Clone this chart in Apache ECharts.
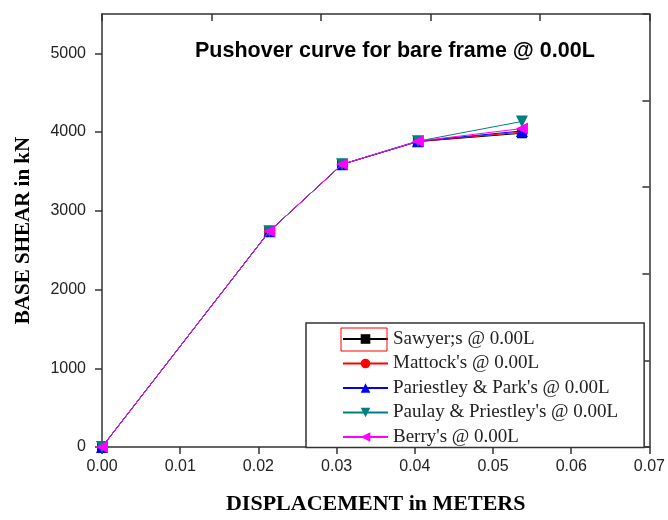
<!DOCTYPE html>
<html>
<head>
<meta charset="utf-8">
<script src="https://cdn.jsdelivr.net/npm/echarts@6/dist/echarts.min.js"></script>
<style>html,body{margin:0;padding:0;background:#fff;}#c{width:668px;height:520px;}</style>
</head>
<body>
<div id="c"></div>
<script>
// Data
const seriesNames = ["Sawyer;s @ 0.00L", "Mattock's @ 0.00L", "Pariestley & Park's @ 0.00L", "Paulay & Priestley's @ 0.00L", "Berry's @ 0.00L"];
const displacement = [0.0, 0.0214, 0.0307, 0.0404, 0.0537];
const sawyerShear   = [0, 2740, 3590, 3880, 3985];
const mattockShear  = [0, 2740, 3590, 3880, 4000];
const parkShear     = [0, 2740, 3590, 3885, 4015];
const paulayShear   = [0, 2740, 3590, 3885, 4135];
const berryShear    = [0, 2740, 3590, 3885, 4045];
const xTickLabels = ["0.00","0.01","0.02","0.03","0.04","0.05","0.06","0.07"];
const yTickLabels = ["0","1000","2000","3000","4000","5000"];

const allShear = [sawyerShear, mattockShear, parkShear, paulayShear, berryShear];
const colors = ['#000000', '#ff0000', '#0000ff', '#008080', '#ff00ff'];
const symbols = ['rect', 'circle', 'triangle', 'triangle', 'triangle'];
const rotates = [0, 0, 0, 180, 90];
const sizes = [10, 10, 12, 12, 12];

const chart = echarts.init(document.getElementById('c'), null, {renderer: 'canvas'});
const axisColor = '#333';
const series = seriesNames.map((name, i) => ({
  name: name,
  type: 'line',
  xAxisIndex: 0,
  yAxisIndex: 0,
  data: displacement.map((x, k) => [x, allShear[i][k]]),
  symbol: symbols[i],
  symbolSize: sizes[i],
  symbolRotate: rotates[i],
  showAllSymbol: true,
  lineStyle: {color: colors[i], width: 1},
  itemStyle: {color: colors[i]},
  animation: false,
  z: 2 + i
}));

chart.setOption({
  animation: false,
  backgroundColor: '#fff',
  title: {
    text: 'Pushover curve for bare frame @ 0.00L',
    left: 190, top: 35,
    textStyle: {fontFamily: 'Liberation Sans', fontWeight: 'bold', fontSize: 21.5, color: '#000'}
  },
  grid: {left: 102, right: 16, top: 14, bottom: 70, containLabel: false},
  legend: {
    orient: 'vertical',
    left: 306, top: 323,
    data: seriesNames,
    itemWidth: 45, itemHeight: 12, itemGap: 5.5,
    padding: [6.5, 26, 1, 36],
    borderColor: '#333', borderWidth: 1.5,
    backgroundColor: '#fff',
    textStyle: {fontFamily: 'Liberation Serif', fontSize: 19, color: '#222', lineHeight: 19},
    selectedMode: false
  },
  graphic: [{
    type: 'rect', z: 100,
    shape: {x: 341, y: 328, width: 46, height: 23},
    style: {fill: 'none', stroke: '#ff0000', lineWidth: 1}
  }],
  xAxis: [{
    type: 'value', position: 'bottom', min: 0, max: 0.07, interval: 0.01,
    name: 'DISPLACEMENT in METERS', nameLocation: 'middle', nameGap: 46,
    nameTextStyle: {fontFamily: 'Liberation Serif', fontWeight: 'bold', fontSize: 22, color: '#000'},
    axisLine: {show: true, onZero: false, lineStyle: {color: axisColor, width: 1.5}},
    axisTick: {show: true, inside: false, length: 7, lineStyle: {color: axisColor, width: 1.5}},
    axisLabel: {fontFamily: 'Liberation Sans', fontSize: 16, color: '#222', margin: 12,
      formatter: v => xTickLabels[Math.round(v / 0.01)] ?? ''},
    splitLine: {show: false}
  }, {
    type: 'value', position: 'top', min: 0, max: 0.07, interval: 0.014,
    axisLine: {show: true, onZero: false, lineStyle: {color: axisColor, width: 1.5}},
    axisTick: {show: true, inside: true, length: 7, lineStyle: {color: axisColor, width: 1.5}},
    axisLabel: {show: false}, splitLine: {show: false}
  }],
  yAxis: [{
    type: 'value', position: 'left', min: 0, max: 5500, interval: 1000,
    name: 'BASE SHEAR in kN', nameLocation: 'middle', nameGap: 68, nameRotate: 90,
    nameTextStyle: {fontFamily: 'Liberation Serif', fontWeight: 'bold', fontSize: 21, color: '#000'},
    axisLine: {show: true, onZero: false, lineStyle: {color: axisColor, width: 1.5}},
    axisTick: {show: true, inside: false, length: 7, lineStyle: {color: axisColor, width: 1.5}},
    axisLabel: {fontFamily: 'Liberation Sans', fontSize: 16, color: '#222', margin: 16, showMaxLabel: false,
      formatter: v => (v % 1000 === 0 ? (yTickLabels[v / 1000] ?? '') : '')},
    splitLine: {show: false}
  }, {
    type: 'value', position: 'right', min: 0, max: 5500, interval: 1100,
    axisLine: {show: true, onZero: false, lineStyle: {color: axisColor, width: 1.5}},
    axisTick: {show: true, inside: true, length: 7, lineStyle: {color: axisColor, width: 1.5}},
    axisLabel: {show: false}, splitLine: {show: false}
  }],
  series: series
});
</script>
</body>
</html>
